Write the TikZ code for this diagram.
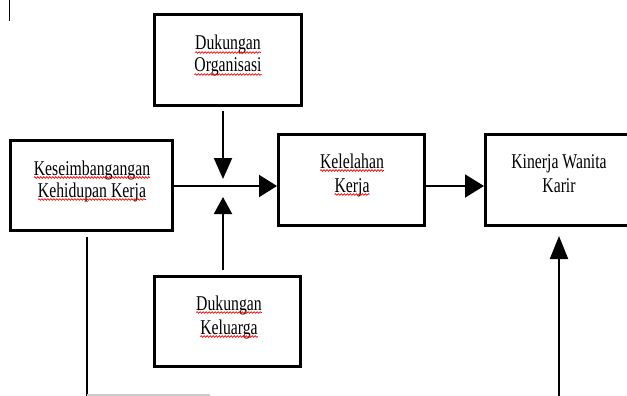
\documentclass[tikz,border=0pt]{standalone}
\usepackage{fontspec}
\setmainfont{Liberation Serif}[FakeStretch=0.75]
\usetikzlibrary{arrows.meta,decorations.pathmorphing}
\begin{document}
\begin{tikzpicture}[x=1pt,y=-1pt,
  box/.style={draw,line width=3pt,rectangle,inner sep=0pt},
  txt/.style={inner sep=0pt,outer sep=0pt,anchor=base,font=\fontsize{21}{24}\selectfont},
  wave/.style={red,line width=0.7pt,decorate,decoration={snake,amplitude=0.8pt,segment length=3pt}},
  conn/.style={line width=2pt}]
\useasboundingbox (0,0) rectangle (627,396);
\clip (0,0) rectangle (627,396);
% boxes
\node[box,minimum width=147pt,minimum height=91pt] (org)  at (228,60)    {};
\node[box,minimum width=162pt,minimum height=90pt] (kes)  at (91.5,185.5) {};
\node[box,minimum width=146pt,minimum height=91pt] (kel)  at (351.5,180) {};
\node[box,minimum width=147pt,minimum height=91pt] (kin)  at (559,180)   {};
\node[box,minimum width=146pt,minimum height=90pt] (kelu) at (227.5,321.5) {};
% texts
\node[txt] (org1)  at (228,50)  {Dukungan};
\node[txt] (org2)  at (228,72)  {Organisasi};
\node[txt] (kes1)  at (92,175)  {Keseimbangangan};
\node[txt] (kes2)  at (92,197)  {Kehidupan Kerja};
\node[txt] (kel1)  at (352,168) {Kelelahan};
\node[txt] (kel2)  at (352,192) {Kerja};
\node[txt] (kin1)  at (559,168) {Kinerja Wanita};
\node[txt] (kin2)  at (559,192) {Karir};
\node[txt] (kelu1) at (229,310) {Dukungan};
\node[txt] (kelu2) at (229,334) {Keluarga};
% spell-check waves
\foreach \n in {org1,org2,kes1,kes2,kel1,kel2,kelu1,kelu2}
  \draw[wave] ([yshift=-2.5pt]\n.base west) -- ([yshift=-2.5pt]\n.base east);
% connectors
\coordinate (mid) at (223,186);
\draw[conn,-{Triangle[length=18pt,width=22pt]}] (kes.east |- mid) -- (kel.west |- mid);
\draw[conn,-{Triangle[length=21pt,width=18pt]}] ([yshift=-4pt]mid |- org.south) -- ([yshift=7pt]mid);
\draw[conn,-{Triangle[length=17pt,width=18pt]}] ([yshift=5pt]mid |- kelu.north) -- ([yshift=-11pt]mid);
\draw[conn,-{Triangle[length=19pt,width=23pt]}] (kel.east |- mid) -- (kin.west |- mid);
\coordinate (kesbot) at (87,398);
\draw[conn] ([yshift=-5pt]kesbot |- kes.south) -- (kesbot);
\coordinate (grayend) at (210,395);
\draw[line width=2pt,gray!40] (kesbot |- grayend) -- (grayend);
\coordinate (kinbot) at (559,398);
\draw[conn,-{Triangle[length=23pt,width=18pt]}] (kinbot) -- ([yshift=-9pt]kinbot |- kin.south);
\coordinate (tla) at (9,0);
\coordinate (tlb) at (9,21);
\draw[line width=1pt] (tla) -- (tlb);
\end{tikzpicture}
\end{document}
